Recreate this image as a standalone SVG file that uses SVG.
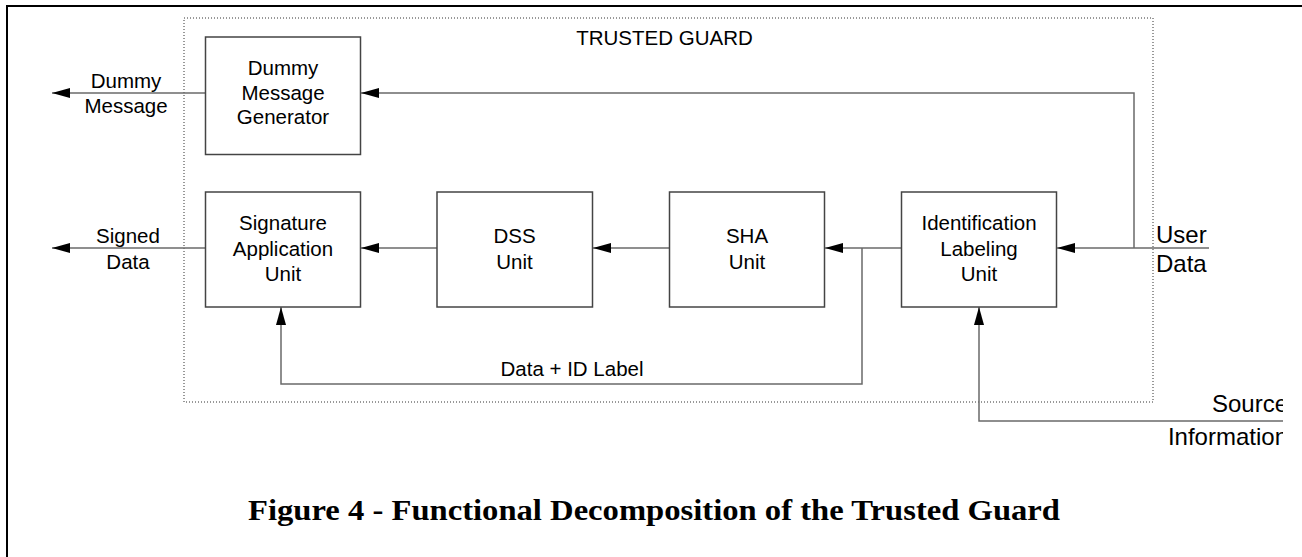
<svg xmlns="http://www.w3.org/2000/svg" width="1302" height="557" viewBox="0 0 1302 557">
<style>
.box{fill:#fff;stroke:#444;stroke-width:1.5}
.ln{fill:none;stroke:#6a6a6a;stroke-width:1.5}
.t{font-family:"Liberation Sans",Arial,sans-serif;font-size:20.5px;fill:#000;text-anchor:middle}
.tb{font-family:"Liberation Sans",Arial,sans-serif;font-size:24px;fill:#000}
.cap{font-family:"Liberation Serif","Times New Roman",serif;font-weight:bold;font-size:30px;fill:#000}
</style>
<defs>
<marker id="ah" viewBox="0 0 18 10" refX="18" refY="5" markerWidth="18" markerHeight="10" markerUnits="userSpaceOnUse" orient="auto">
<path d="M0,0 L18,5 L0,10 Z" fill="#000"/>
</marker>
<clipPath id="rc"><rect x="0" y="0" width="1283" height="557"/></clipPath>
</defs>
<rect width="1302" height="557" fill="#fff"/>
<g id="frame">
<line x1="6" y1="6" x2="1302" y2="6" stroke="#000" stroke-width="2"/>
<line x1="7" y1="5" x2="7" y2="557" stroke="#000" stroke-width="2"/>
</g>
<g id="trusted-guard">
<rect x="184" y="18" width="969" height="384" fill="none" stroke="#333" stroke-width="1" stroke-dasharray="1,2"/>
<text class="t" x="664.500" y="45" style="font-size:20.5px">TRUSTED GUARD</text>
</g>
<g id="connectors">
<line class="ln" x1="205" y1="93" x2="52" y2="93" marker-end="url(#ah)"/>
<polyline class="ln" points="1134,248 1134,93 361,93" marker-end="url(#ah)"/>
<line class="ln" x1="205" y1="248" x2="52" y2="248" marker-end="url(#ah)"/>
<line class="ln" x1="437" y1="248" x2="361" y2="248" marker-end="url(#ah)"/>
<line class="ln" x1="669" y1="248" x2="593" y2="248" marker-end="url(#ah)"/>
<line class="ln" x1="901" y1="248" x2="825" y2="248" marker-end="url(#ah)"/>
<line class="ln" x1="1209" y1="248" x2="1057" y2="248" marker-end="url(#ah)"/>
<polyline class="ln" points="862,248 862,384 281,384 281,307" marker-end="url(#ah)"/>
<polyline class="ln" points="1283,421 979,421 979,307" marker-end="url(#ah)"/>
</g>
<g id="dummy">
<rect class="box" x="205.500" y="37" width="155" height="117.500"/>
<text class="t" x="283" y="75">Dummy</text>
<text class="t" x="283" y="100">Message</text>
<text class="t" x="283" y="124">Generator</text>
</g>
<g id="signature">
<rect class="box" x="205.500" y="192" width="155" height="115"/>
<text class="t" x="283" y="230">Signature</text>
<text class="t" x="283" y="256">Application</text>
<text class="t" x="283" y="281">Unit</text>
</g>
<g id="dss">
<rect class="box" x="437" y="192" width="155.500" height="115"/>
<text class="t" x="514.500" y="243">DSS</text>
<text class="t" x="514.500" y="269">Unit</text>
</g>
<g id="sha">
<rect class="box" x="669.500" y="192" width="155" height="115"/>
<text class="t" x="747" y="243">SHA</text>
<text class="t" x="747" y="269">Unit</text>
</g>
<g id="idlabel">
<rect class="box" x="901.500" y="192" width="155" height="115"/>
<text class="t" x="979" y="230">Identification</text>
<text class="t" x="979" y="256">Labeling</text>
<text class="t" x="979" y="281">Unit</text>
</g>
<g id="labels">
<text class="t" x="126" y="88">Dummy</text>
<text class="t" x="126" y="113">Message</text>
<text class="t" x="128" y="243">Signed</text>
<text class="t" x="128" y="269">Data</text>
<text class="t" x="572" y="376">Data + ID Label</text>
<text class="tb" x="1156" y="243">User</text>
<text class="tb" x="1156" y="272">Data</text>
<g clip-path="url(#rc)">
<text class="tb" x="1288" y="412" text-anchor="end">Source</text>
<text class="tb" x="1288" y="445" text-anchor="end">Information</text>
</g>
</g>
<g id="caption">
<text class="cap" x="248" y="520" textLength="812" lengthAdjust="spacingAndGlyphs">Figure 4 - Functional Decomposition of the Trusted Guard</text>
</g>
</svg>
